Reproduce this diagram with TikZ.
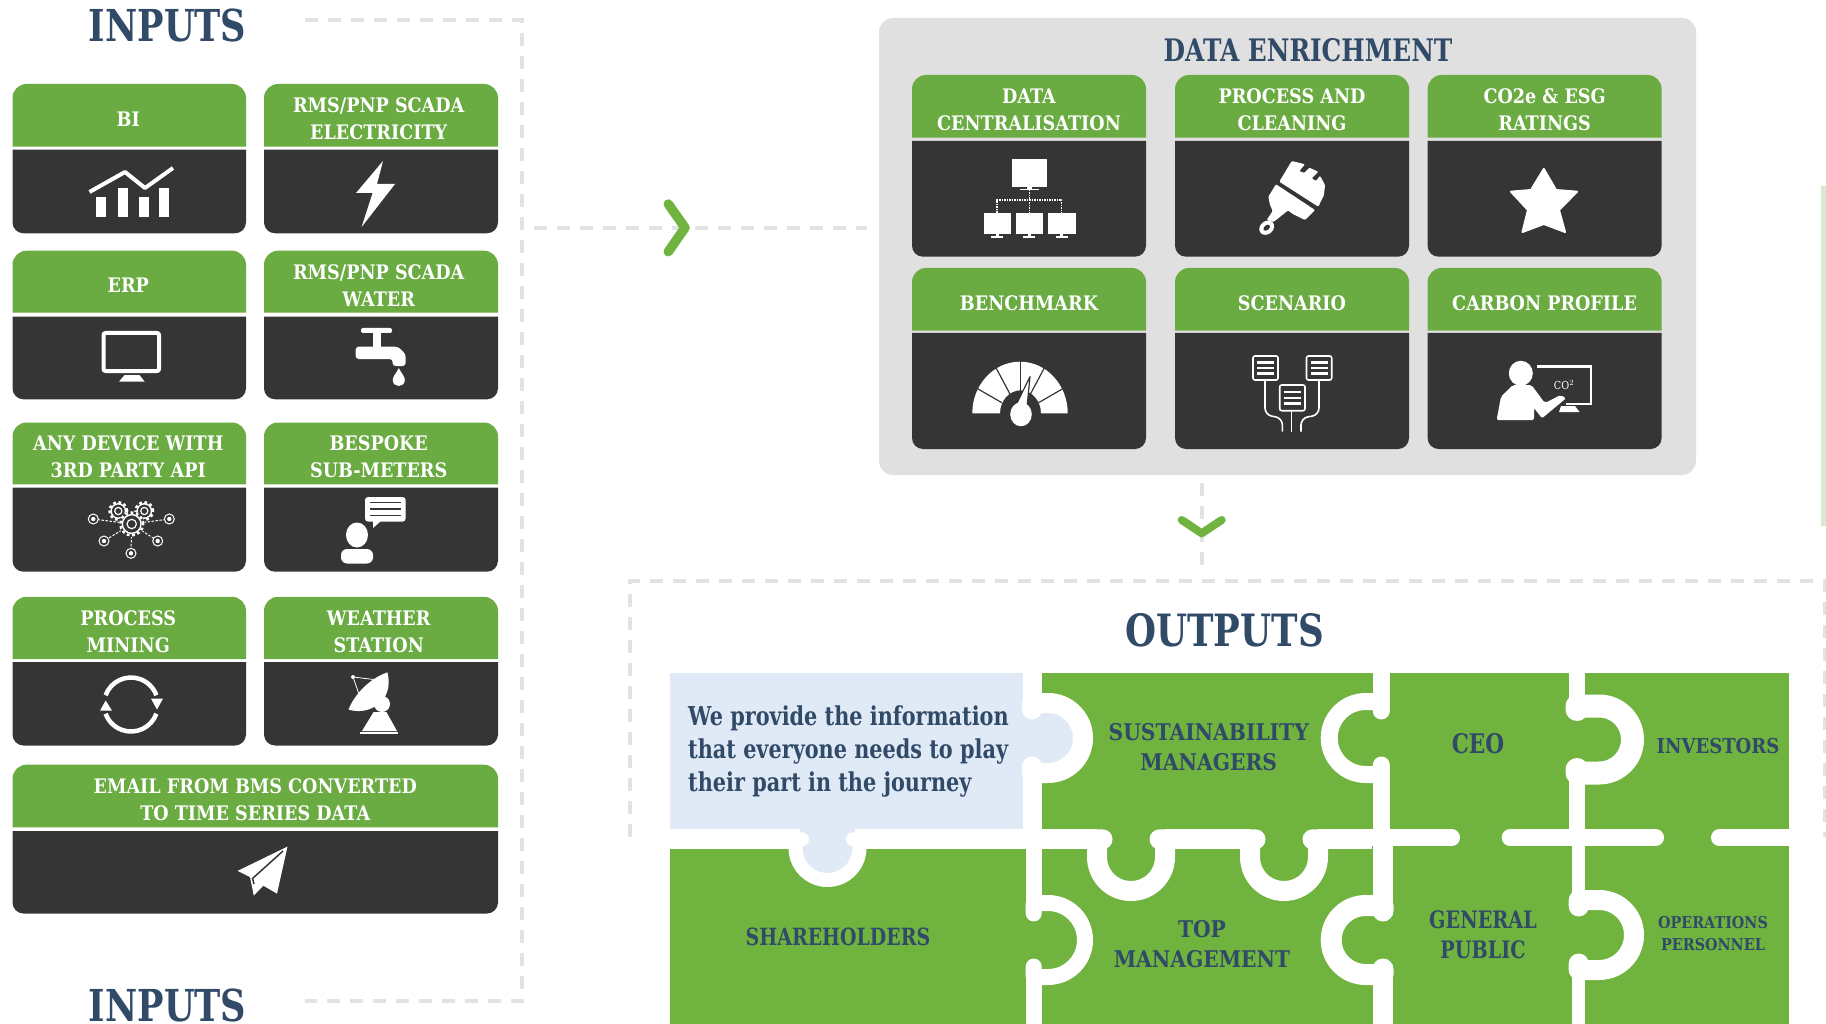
\documentclass[tikz,border=0pt]{standalone}
\usepackage{fontspec}
\setmainfont{DejaVu Serif}[FakeStretch=0.88]
\newfontfamily\titlefont{DejaVu Serif}[FakeStretch=0.8]
\usetikzlibrary{positioning}
\definecolor{cardgreen}{HTML}{6AAB42}
\definecolor{puzzlegreen}{HTML}{70B33F}
\definecolor{carddark}{HTML}{353535}
\definecolor{titlenavy}{HTML}{304A68}
\definecolor{puzzleblue}{HTML}{E0EAF7}
\definecolor{panelgrey}{HTML}{E0E0E0}
\definecolor{dashgrey}{HTML}{E2E2E2}
\definecolor{barpale}{HTML}{D9E8D0}
\tikzset{
    cardtext/.style={text=white,align=center,inner sep=0pt,font=\bfseries\fontsize{20}{27}\selectfont},
    bigtitle/.style={text=titlenavy,inner sep=0pt,font=\titlefont\bfseries\fontsize{44}{48}\selectfont},
    piecetext/.style={text=titlenavy,align=center,inner sep=0pt,font=\bfseries\fontsize{23}{30}\selectfont},
    flowdash/.style={dashgrey,line width=4.5pt,dash pattern=on 13pt off 10pt},
    chevron/.style={puzzlegreen,line cap=round,line join=round},
    seamline/.style={white,line cap=round,line join=round},
    seamcut/.style={white,line cap=butt},
    iconline/.style={white,line width=1.2pt},
    darkline/.style={carddark,line width=1.5pt},
}
\newcommand{\card}[9][0]{%
    \fill[cardgreen] (#3,#6) [rounded corners=14pt] -- (#3,#5) -- (#4,#5) [sharp corners] -- (#4,#6) -- cycle;
    \fill[carddark] (#3,#7) [rounded corners=11pt] -- (#3,#8) -- (#4,#8) [sharp corners] -- (#4,#7) -- cycle;
    \node[cardtext] (#2) at ({(#3+#4)/2+#1},{(#5+#6)/2+3.7}) {#9};
}
\newcommand{\seamtab}[6]{%
    \begin{scope}[shift={(#1,#2)},rotate=#3]
        \pgfmathsetmacro{\tipend}{18.5+#6/2}
        \draw[seamline,line width=#6pt] (0,-\tipend) -- (0,-#5) -- (#4,-#5)
            arc[start angle=90,end angle=-90,radius=#5pt] -- (0,#5) -- (0,\tipend);
    \end{scope}
}
\newcommand{\gearicon}[3]{%
    \draw[white,line width=1.4pt] (#1,#2) circle[radius=#3pt*.72];
    \draw[white,line width=2.4pt,dash pattern=on 2.8pt off 2.6pt] (#1,#2) circle[radius=#3pt*.88];
    \draw[white,line width=1.2pt] (#1,#2) circle[radius=#3pt*.36];
}
\newcommand{\targeticon}[2]{%
    \draw[white,line width=1pt] (#1,#2) circle[radius=5pt];
    \fill[white] (#1,#2) circle[radius=2.2pt];
}
\newcommand{\smallscreen}[2]{%
    \fill[white] (#1,213) rectangle (#2,234);
    \fill[white] ({(#1+#2)/2-1.5},234) rectangle ({(#1+#2)/2+1.5},237);
    \fill[white] ({(#1+#2)/2-6},236.5) rectangle ({(#1+#2)/2+6},237.8);
}
\newcommand{\docicon}[4]{%
    \draw[white,line width=1.6pt,rounded corners=2pt] (#1,#3) rectangle (#2,#4);
    \foreach \barpos in {.28,.5,.72}
        \fill[white] ({#1+4},{#3+(#4-#3)*\barpos-1.3}) rectangle ({#2-4},{#3+(#4-#3)*\barpos+1.3});
}
\begin{document}
\begin{tikzpicture}[x=1pt,y=-1pt]
    \useasboundingbox (0,0) rectangle (1826,1024);

    \node[bigtitle] (inputstop) at (167.7,25) {INPUTS};
    \node[bigtitle] (inputsbottom) at (167.7,1005.5) {INPUTS};
    \coordinate (inputsa) at (305,20);
    \coordinate (inputsb) at (522,20);
    \coordinate (inputsc) at (522,1001);
    \coordinate (inputsd) at (305,1001);
    \draw[flowdash] (inputsa) -- (inputsb) -- (inputsc) -- (inputsd);

    \card[-1]{bi}{12.5}{246}{84}{146.7}{149.7}{233.3}{BI}
    \card[-2.3]{scadapower}{264}{498}{84}{146.7}{149.7}{233.3}{RMS/PNP SCADA\\ELECTRICITY}
    \card[-1]{erp}{12.5}{246}{250.7}{312.7}{316.7}{399.3}{ERP}
    \card[-2.3]{scadawater}{264}{498}{250.7}{312.7}{316.7}{399.3}{RMS/PNP SCADA\\WATER}
    \card[-1]{apidevice}{12.5}{246}{422.5}{484.4}{487.5}{571.7}{ANY DEVICE WITH\\3RD PARTY API}
    \card[-2.3]{submeters}{264}{498}{422.5}{484.4}{487.5}{571.7}{BESPOKE\\SUB-METERS}
    \card[-1]{procmining}{12.5}{246}{596.8}{659}{662}{745.5}{PROCESS\\MINING}
    \card[-2.3]{weather}{264}{498}{596.8}{659}{662}{745.5}{WEATHER\\STATION}
    \card{emailbms}{12.5}{498}{764.7}{827.4}{831}{913.5}{EMAIL FROM BMS CONVERTED\\TO TIME SERIES DATA}

    \fill[white] (96,197) rectangle (106,217);
    \fill[white] (118,188) rectangle (128,217);
    \fill[white] (139,197) rectangle (149,217);
    \fill[white] (159,188) rectangle (169,217);
    \draw[white,line width=4pt,line join=round] (89.5,192) -- (125,172) -- (145,188) -- (173,168);

    \fill[white] (383,161) -- (356,193) -- (372.6,193) -- (361.6,227) -- (395,184) -- (377,184) -- cycle;

    \draw[white,line width=4pt,rounded corners=2pt] (103.6,333) rectangle (159,371);
    \fill[white] (119,381.6) -- (144.6,381.6) -- (139.5,375) -- (124.6,375) -- cycle;

    \fill[white,rounded corners=2pt] (361,328) rectangle (392,333);
    \fill[white] (372.6,333) rectangle (380.5,347);
    \fill[white,rounded corners=3pt] (355.7,346.7) -- (398,346.7) -- (405.6,354) -- (405.6,366) -- (392.6,366) -- (392.6,359) -- (355.7,359) -- cycle;
    \fill[white] (398.8,368) .. controls (396,374) and (392.8,376) .. (392.8,380) .. controls (392.8,388) and (404.8,388) .. (404.8,380) .. controls (404.8,376) and (401.6,374) .. (398.8,368) -- cycle;

    \foreach \tx/\ty in {93.3/519,169.3/519,104/541,157.7/541,131/553.3} {
        \draw[white,line width=1pt,dash pattern=on 2.5pt off 1.5pt] (131.7,524) -- (\tx,\ty);
        \fill[carddark] (\tx,\ty) circle[radius=5pt];
        \targeticon{\tx}{\ty}
    }
    \fill[carddark] (131.7,524) circle[radius=13pt];
    \gearicon{118.3}{511}{10}
    \gearicon{144.3}{511}{10}
    \fill[carddark] (131.7,524) circle[radius=12.7pt];
    \gearicon{131.7}{524}{13}

    \fill[white,rounded corners=3pt] (365,497) rectangle (405.6,521.6);
    \fill[white] (373,521) -- (373,528) -- (381,521) -- cycle;
    \foreach \ly in {502.5,509,515.5}
        \draw[darkline] (370,\ly) -- (401,\ly);
    \fill[white] (357,535) ellipse[x radius=11pt,y radius=12.5pt];
    \fill[white,rounded corners=6pt] (341,563.5) -- (341,549) -- (373,549) -- (373,563.5) -- cycle;

    \draw[white,line width=4.5pt] (131,704.5) ++(160:27pt) arc[start angle=160,end angle=20,radius=27pt];
    \draw[white,line width=4.5pt] (131,704.5) ++(-20:27pt) arc[start angle=-20,end angle=-160,radius=27pt];
    \fill[white] (151,698.6) -- (163,698.6) -- (157,709.5) -- cycle;
    \fill[white] (100,710.7) -- (112,710.7) -- (105.7,700.5) -- cycle;

    \fill[white] (387.4,672.3) .. controls (366,680) and (353,698) .. (348.5,709.5) .. controls (368,716) and (395,702) .. cycle;
    \fill[white] (382,704) ellipse[x radius=8pt,y radius=8pt];
    \fill[white] (362,731) -- (373.6,712) -- (386.4,712) -- (397,731) -- cycle;
    \fill[white] (360,731.5) rectangle (398.4,733.5);
    \draw[iconline,line width=.8pt] (360,697) -- (353,677) -- (378,680);
    \fill[white] (353,677) circle[radius=2pt];

    \fill[white,line join=round] (287.5,846.6) -- (237.6,870.9) -- (250,877) -- (253.8,895.5) -- (263.4,885.7) -- (277,893.6) -- cycle;
    \draw[darkline] (283,851) -- (252.5,878.5) -- (254,884);

    \coordinate (flowa) at (534,227.7);
    \coordinate (flowb) at (867,227.7);
    \draw[flowdash,line width=4pt] (flowa) -- (flowb);
    \draw[chevron,line width=9.5pt] (668.3,204) -- (685,227.7) -- (668.3,251.7);

    \node[fill=panelgrey,rounded corners=14pt,minimum width=817pt,minimum height=457pt,inner sep=0pt] (enrich) at (1287.5,246.5) {};
    \node[bigtitle,font=\titlefont\bfseries\fontsize{31}{34}\selectfont] (enrichtitle) at (1308,50) {DATA ENRICHMENT};

    \card{datacentral}{912}{1146}{75}{137.7}{141}{256.7}{DATA\\CENTRALISATION}
    \card{cleaning}{1175}{1409}{75}{137.7}{141}{256.7}{PROCESS AND\\CLEANING}
    \card{esgrating}{1427.6}{1661.6}{75}{137.7}{141}{256.7}{CO2e \& ESG\\RATINGS}
    \card{benchmark}{912}{1146}{268}{330.7}{333}{449}{BENCHMARK}
    \card{scenario}{1175}{1409}{268}{330.7}{333}{449}{SCENARIO}
    \card{carbon}{1427.6}{1661.6}{268}{330.7}{333}{449}{CARBON PROFILE}

    \fill[white] (1012,159) rectangle (1046.8,186.7);
    \fill[white] (1027,186.7) rectangle (1032,190);
    \fill[white] (1020,189) rectangle (1039,190.5);
    \draw[white,line width=1.2pt,dash pattern=on 1.5pt off 1pt] (1029.6,190) -- (1029.6,213) (997,213) -- (997,200) -- (1061.7,200) -- (1061.7,213);
    \smallscreen{983.5}{1011}
    \smallscreen{1015.7}{1043}
    \smallscreen{1047.8}{1075.7}

    \fill[white,rounded corners=1pt] (1291.7,161) -- (1305,164.3) -- (1299.3,171) -- (1304,173) -- (1309.3,167.7) -- (1318.3,171.7) -- (1311.7,178.3) -- (1316,181) -- (1320,175.7) -- (1325,185) -- (1324,195) -- (1318.3,206.7) -- (1279.3,181.7) -- cycle;
    \fill[white,rounded corners=1pt] (1276,184.3) -- (1315,210) -- (1305,220) -- (1293.3,214.3) -- (1288,210.5) -- (1273.5,222) -- (1266.7,220) -- (1272.7,211) -- (1270,205) -- (1268.3,196.7) -- cycle;
    \begin{scope}[shift={(1266.7,227.7)},rotate=40]
        \fill[white] (0,0) ellipse[x radius=8pt,y radius=6.5pt];
        \fill[carddark] (0,0) ellipse[x radius=3.8pt,y radius=2.4pt];
    \end{scope}

    \fill[white,line join=round,draw=white,line width=2pt] (1543.8,169) -- (1556,190) -- (1577,191.7) -- (1559,210) -- (1565,232) -- (1543.8,224) -- (1522.5,232) -- (1528,210) -- (1511,191.7) -- (1531,190) -- cycle;

    \fill[white] (972.3,413.3) arc[start angle=180,end angle=0,x radius=47.7pt,y radius=51.6pt] -- (1041,413.3) arc[start angle=0,end angle=180,x radius=20.5pt,y radius=23pt] -- cycle;
    \foreach \gaugeang in {30,62,90,118,150}
        \draw[carddark,line width=1.2pt] (1020.2,413.3) ++(\gaugeang:21pt) -- ++(\gaugeang:32pt);
    \fill[white,draw=carddark,line width=1.2pt,line join=round] (1030,376.7) -- (1016,405) -- (1027,407) -- cycle;
    \fill[white] (1021,414.3) ellipse[x radius=10.8pt,y radius=12pt];

    \docicon{1253}{1278}{356}{380}
    \docicon{1306.5}{1331.7}{356}{380}
    \docicon{1279.7}{1305}{385}{410.7}
    \draw[white,line width=1.6pt,rounded corners=7pt] (1265,380) -- (1265,415) -- (1282.4,418) -- (1282.4,431.7);
    \draw[white,line width=1.6pt,rounded corners=7pt] (1319,380) -- (1319,415) -- (1301,418) -- (1301,431.7);
    \draw[white,line width=1.6pt] (1291.5,410.7) -- (1291.5,431.7);

    \fill[white] (1520.8,373.3) ellipse[x radius=12pt,y radius=12.5pt];
    \fill[white,rounded corners=2pt] (1496.6,420) -- (1501,396.7) -- (1512.8,385) -- (1531.5,385) -- (1544.8,403) -- (1560.7,395) -- (1566,398.3) -- (1542,418.3) -- (1534,408) -- (1534,420) -- cycle;
    \draw[white,line width=2.5pt] (1536.8,366.7) -- (1591,366.7) -- (1591,404) -- (1566,404);
    \fill[white] (1561,406) -- (1575,406) -- (1579.5,412) -- (1559,412) -- cycle;
    \node[text=white,inner sep=0pt,font=\fontsize{11}{11}\selectfont] (co2mark) at (1564,385) {CO$^2$};

    \coordinate (flowc) at (1202,483);
    \coordinate (flowd) at (1202,572);
    \draw[flowdash,line width=4pt] (flowc) -- (flowd);
    \draw[chevron,line width=8pt] (1181.7,520) -- (1201.7,533.3) -- (1221.7,520);

    \coordinate (outa) at (630,837);
    \coordinate (outb) at (630,580.7);
    \coordinate (outc) at (1824.5,580.7);
    \coordinate (outd) at (1824.5,837);
    \draw[flowdash,line width=4pt] (outa) -- (outb) -- (outc) -- (outd);
    \node[bigtitle,font=\titlefont\bfseries\fontsize{44.5}{48}\selectfont] (outputstitle) at (1224.5,630.5) {OUTPUTS};

    \fill[barpale] (1821,186) rectangle (1826,526);

    \fill[puzzlegreen] (669.5,672.5) rectangle (1789,1024);
    \fill[puzzleblue] (669.5,672.5) rectangle (1024,829.5);
    \fill[puzzleblue] (1022,716) rectangle (1048,760);
    \fill[puzzleblue] (1048,738) circle[radius=26pt];
    \fill[puzzleblue] (800,829) rectangle (855,840);
    \fill[puzzleblue] (827.5,848) circle[radius=26pt];

    \draw[seamcut,line width=19pt] (1032,672) -- (1032,703) (1032,773) -- (1032,839);
    \draw[seamcut,line width=16pt] (1033.7,839) -- (1033.7,903) (1033.7,977) -- (1033.7,1024);
    \draw[seamcut,line width=17pt] (1381.3,672) -- (1381.3,701.5) (1381.3,774.5) -- (1381.3,838);
    \draw[seamcut,line width=20.5pt] (1383,838) -- (1383,905.5) (1383,974.5) -- (1383,1024);
    \draw[seamcut,line width=16.5pt] (1577,672) -- (1577,706) (1577,773) -- (1577,838);
    \draw[seamcut,line width=13pt] (1578.7,838) -- (1578.7,900) (1578.7,970) -- (1578.7,1024);
    \draw[seamcut,line width=20pt] (669,839.3) -- (800,839.3) (855,839.3) -- (1097,839.3) (1165,839.3) -- (1250,839.3) (1318,839.3) -- (1372,839.3);
    \draw[seamline,line width=16.7pt] (1373,837.6) -- (1451.7,837.6);
    \draw[seamline,line width=16.7pt] (1510,837.6) -- (1655.7,837.6);
    \draw[seamline,line width=16.7pt] (1719.3,837.6) -- (1790,837.6);

    \seamtab{1032}{738}{0}{16}{35}{20}
    \seamtab{1033.7}{940}{0}{14.3}{37}{16}
    \seamtab{1381.3}{738}{180}{15.6}{36.5}{17}
    \seamtab{1383}{940}{180}{17.3}{34.5}{21}
    \seamtab{1577}{739.5}{0}{22}{33.5}{23}
    \seamtab{1578.7}{935}{0}{20.3}{35}{20}
    \seamtab{1131}{839.3}{-90}{17.7}{34}{20}
    \seamtab{1284}{839.3}{-90}{17.7}{34}{20}
    \seamtab{827.5}{839.3}{-90}{8.7}{32}{14}

    \node[text=titlenavy,align=left,inner sep=0pt,font=\titlefont\bfseries\fontsize{26}{33}\selectfont,anchor=west] (journey) at (688,752) {We provide the information\\that everyone needs to play\\their part in the journey};
    \node[piecetext] (sustain) at (1208.7,746.7) {SUSTAINABILITY\\MANAGERS};
    \node[piecetext,font=\titlefont\bfseries\fontsize{27}{30}\selectfont] (ceo) at (1478,744) {CEO};
    \node[piecetext,font=\bfseries\fontsize{20.5}{26}\selectfont] (investors) at (1718,746) {INVESTORS};
    \node[piecetext,font=\titlefont\bfseries\fontsize{23.7}{30}\selectfont] (holders) at (838,937) {SHAREHOLDERS};
    \node[piecetext] (topmanage) at (1202,944) {TOP\\MANAGEMENT};
    \node[piecetext,font=\titlefont\bfseries\fontsize{24}{30}\selectfont] (general) at (1483,935) {GENERAL\\PUBLIC};
    \node[piecetext,font=\bfseries\fontsize{16.3}{22}\selectfont] (operations) at (1713,934) {OPERATIONS\\PERSONNEL};
\end{tikzpicture}
\end{document}
